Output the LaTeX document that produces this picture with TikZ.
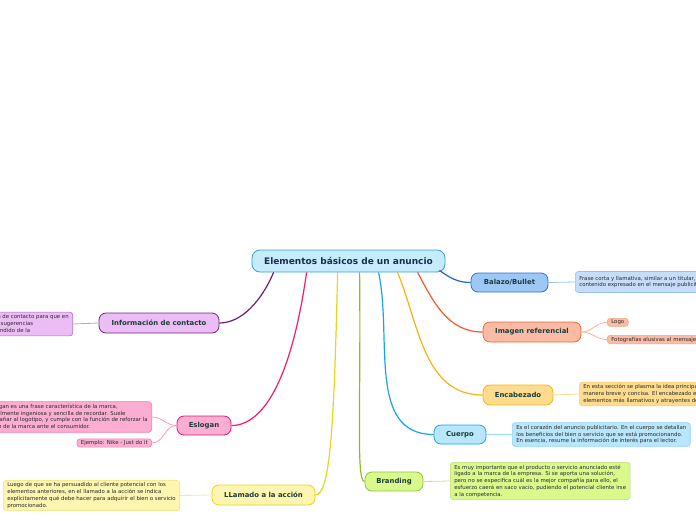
\documentclass[tikz,border=0pt]{standalone}
\usepackage{fontspec}
\setmainfont{DejaVu Sans}
\usetikzlibrary{calc}
\definecolor{txtdark}{HTML}{1B3C3C}
\definecolor{txtmain}{HTML}{1B2D4F}
\definecolor{notetxt}{HTML}{2A2A2A}
\definecolor{mainfill}{HTML}{C6EBFB}\definecolor{maindraw}{HTML}{3B9EE0}
\definecolor{infofill}{HTML}{ECBCF5}\definecolor{infodraw}{HTML}{6B2A7D}
\definecolor{eslfill}{HTML}{FBAED2}\definecolor{esldraw}{HTML}{E3167A}
\definecolor{llafill}{HTML}{FDF5B0}\definecolor{lladraw}{HTML}{ECD31A}
\definecolor{brafill}{HTML}{D9F98C}\definecolor{bradraw}{HTML}{8CC63A}
\definecolor{cuefill}{HTML}{B8E6FA}\definecolor{cuedraw}{HTML}{1CA6E6}
\definecolor{encfill}{HTML}{FEDB8D}\definecolor{encdraw}{HTML}{F6B715}
\definecolor{imgfill}{HTML}{F9BBA3}\definecolor{imgdraw}{HTML}{F0653A}
\definecolor{balfill}{HTML}{9DC8F6}\definecolor{baldraw}{HTML}{2C6FD6}
\definecolor{brblue}{HTML}{2363CF}\definecolor{brorange}{HTML}{F35A2A}
\definecolor{brgold}{HTML}{F8B30E}\definecolor{brcyan}{HTML}{12A6E8}
\definecolor{brgreen}{HTML}{8DBE16}\definecolor{bryellow}{HTML}{EAD41A}
\definecolor{brpink}{HTML}{EE1C74}\definecolor{brpurple}{HTML}{6A1E78}
\definecolor{nbalfill}{HTML}{C6DDFA}\definecolor{nbaldraw}{HTML}{9BBFF0}
\definecolor{nimgfill}{HTML}{FBBBA5}\definecolor{nimgdraw}{HTML}{F5A585}
\definecolor{nencdraw}{HTML}{F8CF6C}
\definecolor{ncuedraw}{HTML}{8FD2F2}
\definecolor{nbradraw}{HTML}{BCE074}
\definecolor{nlladraw}{HTML}{F2E27A}
\definecolor{nesldraw}{HTML}{F080B8}
\definecolor{ninfodraw}{HTML}{B070C0}
\definecolor{twblue}{HTML}{9BC3F0}\definecolor{twsalmon}{HTML}{F8B49A}
\definecolor{twgold}{HTML}{FBD98A}\definecolor{twcyan}{HTML}{9DD8F4}
\definecolor{twgreen}{HTML}{C4E68A}\definecolor{twyellow}{HTML}{F6EA9A}
\definecolor{twpink}{HTML}{F59AC6}\definecolor{twpurple}{HTML}{C89AD4}
\tikzset{
  topic/.style={rounded corners=7pt, line width=0.8pt, font=\fontsize{6.9}{7.5}\selectfont\bfseries, text=txtdark, inner sep=0pt, align=center},
  note/.style={rounded corners=3pt, line width=0.6pt, font=\fontsize{5.4}{6.7}\selectfont, text=notetxt, inner xsep=4pt, inner ysep=2.5pt, align=left},
  branch/.style={line width=1.2pt},
  twig/.style={line width=0.8pt},
}
\begin{document}
\begin{tikzpicture}[x=1pt,y=-1pt]
\useasboundingbox (0,0) rectangle (696,520);
\begin{scope}
\clip (0,0) rectangle (696,520);
% central
\node[rounded corners=8pt, line width=0.8pt, fill=mainfill, draw=maindraw, minimum width=193pt, minimum height=22pt, inner sep=0pt, font=\fontsize{9}{10}\selectfont\bfseries, text=txtmain] (main) at (348.5,261) {Elementos básicos de un anuncio};

% topics
\node[topic, fill=infofill, draw=infodraw, minimum width=120pt, minimum height=20pt] (info) at (159,323) {Información de contacto};
\node[topic, fill=eslfill, draw=esldraw, minimum width=54pt, minimum height=19pt] (eslogan) at (204,425.5) {Eslogan};
\node[topic, fill=llafill, draw=lladraw, minimum width=103pt, minimum height=20pt] (llamado) at (263.5,495) {LLamado a la acción};
\node[topic, fill=brafill, draw=bradraw, minimum width=58pt, minimum height=19pt] (branding) at (394,481.5) {Branding};
\node[topic, fill=cuefill, draw=cuedraw, minimum width=52pt, minimum height=19pt] (cuerpo) at (460,434.5) {Cuerpo};
\node[topic, fill=encfill, draw=encdraw, minimum width=70pt, minimum height=20pt] (encab) at (518,395) {Encabezado};
\node[topic, fill=imgfill, draw=imgdraw, minimum width=98pt, minimum height=20pt] (imagen) at (532,332) {Imagen referencial};
\node[topic, fill=balfill, draw=baldraw, minimum width=77pt, minimum height=19pt] (balazo) at (509.5,282.5) {Balazo/Bullet};

% branches
\draw[branch, draw=brblue] ([xshift=-6pt,yshift=2pt]main.south east) to[out=-35,in=180] (balazo.west);
\draw[branch, draw=brorange] ([xshift=166pt]main.south west) to[out=-62,in=180] (imagen.west);
\draw[branch, draw=brgold] ([xshift=146pt]main.south west) to[out=-68,in=180] (encab.west);
\draw[branch, draw=brcyan] ([xshift=127pt]main.south west) to[out=-78,in=180] (cuerpo.west);
\draw[branch, draw=brgreen] ([xshift=108pt]main.south west) .. controls (361,410) and (356,481.5) .. (branding.west);
\draw[branch, draw=bryellow] ([xshift=86pt]main.south west) .. controls (334,430) and (330,495) .. (llamado.east);
\draw[branch, draw=brpink] ([xshift=55pt]main.south west) .. controls (292,375) and (265,425.5) .. (eslogan.east);
\draw[branch, draw=brpurple] ([xshift=22pt]main.south west) .. controls (262,300) and (242,323) .. (info.east);

% notes
\node[note, anchor=west, fill=nbalfill, draw=nbaldraw, minimum height=21pt] (nbalazo) at (575,282) {Frase corta y llamativa, similar a un titular, que resume el\\contenido expresado en el mensaje publicitario.};
\node[note, anchor=north west, fill=nimgfill, draw=nimgdraw, inner ysep=1.5pt] (nlogo) at (607,318) {Logo};
\node[note, anchor=north west, fill=nimgfill, draw=nimgdraw, inner ysep=1.5pt] (nfoto) at (607,335) {Fotografías alusivas al mensaje};
\node[note, anchor=west, fill=encfill, draw=nencdraw] (nencab) at (579,394) {En esta sección se plasma la idea principal del anuncio de\\manera breve y concisa. El encabezado es uno de los\\elementos más llamativos y atrayentes del anuncio.};
\node[note, anchor=west, fill=cuefill, draw=ncuedraw] (ncuerpo) at (512,434.5) {Es el corazón del anuncio publicitario. En el cuerpo se detallan\\los beneficios del bien o servicio que se está promocionando.\\En esencia, resume la información de interés para el lector.};
\node[note, anchor=west, fill=brafill, draw=nbradraw] (nbrand) at (450,481) {Es muy importante que el producto o servicio anunciado esté\\ligado a la marca de la empresa. Si se aporta una solución,\\pero no se especifica cuál es la mejor compañía para ello, el\\esfuerzo caerá en saco vacío, pudiendo el potencial cliente irse\\a la competencia.};
\node[note, anchor=west, fill=llafill, draw=nlladraw] (nllamado) at (3,495.5) {Luego de que se ha persuadido al cliente potencial con los\\elementos anteriores, en el llamado a la acción se indica\\explícitamente qué debe hacer para adquirir el bien o servicio\\promocionado.};
\node[note, anchor=east, fill=eslfill, draw=nesldraw] (neslogan) at (152,417) {El eslogan es una frase característica de la marca,\\generalmente ingeniosa y sencilla de recordar. Suele\\acompañar al logotipo, y cumple con la función de reforzar la\\imagen de la marca ante el consumidor.};
\node[note, anchor=east, fill=eslfill, draw=nesldraw, inner ysep=1.5pt] (nejemplo) at (152,443) {Ejemplo: Nike - Just do it};
\node[note, anchor=east, fill=infofill, draw=ninfodraw] (ninfo) at (73,324) {Debe incluirse la información de contacto para que en\\caso de que existan dudas o sugerencias\\por parte del cliente, sea atendido de la};

% twigs
\draw[twig, draw=twblue] (balazo.east) -- (nbalazo.west);
\draw[twig, draw=twsalmon] (imagen.east) to[out=0,in=180] (nlogo.west);
\draw[twig, draw=twsalmon] (imagen.east) to[out=0,in=180] (nfoto.west);
\draw[twig, draw=twgold] (encab.east) -- (nencab.west);
\draw[twig, draw=twcyan] (cuerpo.east) -- (ncuerpo.west);
\draw[twig, draw=twgreen] (branding.east) -- (nbrand.west);
\draw[twig, draw=twyellow] (llamado.west) -- (nllamado.east);
\draw[twig, draw=twpink] (eslogan.west) to[out=180,in=0] (neslogan.east);
\draw[twig, draw=twpink] (eslogan.west) to[out=180,in=0] (nejemplo.east);
\draw[twig, draw=twpurple] (info.west) -- (ninfo.east);
\end{scope}
\end{tikzpicture}
\end{document}
